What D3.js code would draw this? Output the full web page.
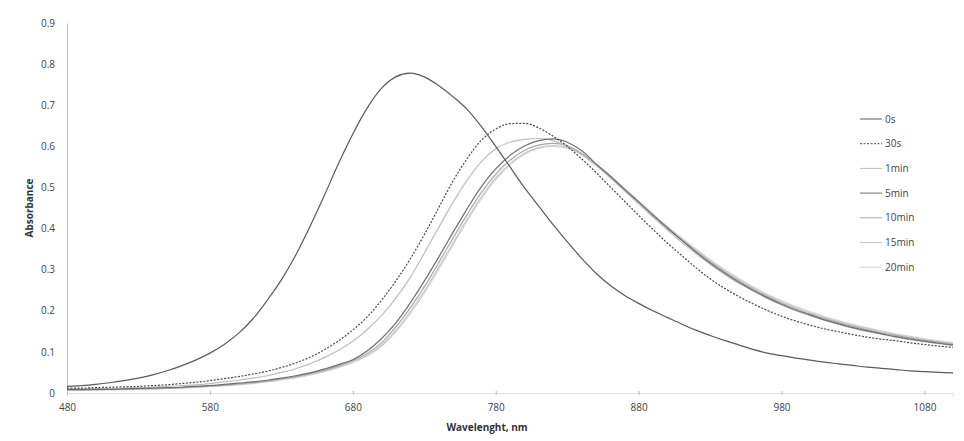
<!DOCTYPE html>
<html lang="en">
<head>
  <meta charset="UTF-8">
  <script src="https://d3js.org/d3.v7.min.js"></script>
  <style>
    body { margin: 0; background: #fff; }
    text { font-family: "Open Sans", "Noto Sans", sans-serif; fill: #444; }
  </style>
</head>
<body>
<div id="my_dataviz"></div>
<script>
// wavelengths, nm
var wavelength = [480, 490, 500, 510, 520, 530, 540, 550, 560, 570, 580, 590, 600, 610, 620, 630, 640, 650, 660, 670,
  680, 690, 700, 710, 720, 730, 740, 750, 760, 770, 780, 790, 800, 810, 820, 830, 840, 850, 860, 870,
  880, 890, 900, 910, 920, 930, 940, 950, 960, 970, 980, 990, 1000, 1010, 1020, 1030, 1040, 1050, 1060, 1070,
  1080, 1090, 1100];

var seriesNames = ["0s", "30s", "1min", "5min", "10min", "15min", "20min"];

var abs0s = [0.016, 0.018, 0.021, 0.025, 0.030, 0.036, 0.044, 0.054, 0.066, 0.080, 0.097, 0.118, 0.145, 0.180, 0.225, 0.275, 0.335, 0.405, 0.480, 0.558,
  0.630, 0.693, 0.741, 0.769, 0.778, 0.769, 0.748, 0.721, 0.690, 0.648, 0.600, 0.550, 0.500, 0.455, 0.410, 0.368, 0.328, 0.292, 0.262, 0.238,
  0.218, 0.200, 0.184, 0.168, 0.153, 0.140, 0.128, 0.117, 0.106, 0.097, 0.091, 0.085, 0.080, 0.075, 0.071, 0.067, 0.063, 0.060, 0.057, 0.054,
  0.052, 0.050, 0.049];

var abs30s = [0.012, 0.012, 0.013, 0.014, 0.015, 0.016, 0.018, 0.020, 0.023, 0.026, 0.030, 0.035, 0.040, 0.046, 0.053, 0.062, 0.073, 0.087, 0.105, 0.127,
  0.153, 0.185, 0.225, 0.272, 0.325, 0.385, 0.450, 0.515, 0.570, 0.615, 0.642, 0.655, 0.656, 0.645, 0.625, 0.600, 0.570, 0.537, 0.502, 0.467,
  0.432, 0.398, 0.365, 0.335, 0.305, 0.278, 0.255, 0.235, 0.217, 0.201, 0.187, 0.175, 0.165, 0.156, 0.149, 0.142, 0.136, 0.131, 0.127, 0.122,
  0.118, 0.114, 0.111];

var abs1min = [0.010, 0.010, 0.011, 0.011, 0.012, 0.013, 0.014, 0.016, 0.018, 0.020, 0.023, 0.027, 0.031, 0.036, 0.042, 0.050, 0.059, 0.071, 0.086, 0.104,
  0.126, 0.154, 0.188, 0.230, 0.280, 0.340, 0.402, 0.463, 0.518, 0.563, 0.594, 0.610, 0.617, 0.619, 0.614, 0.600, 0.580, 0.554, 0.524, 0.492,
  0.460, 0.428, 0.397, 0.367, 0.339, 0.313, 0.289, 0.267, 0.248, 0.230, 0.214, 0.200, 0.188, 0.177, 0.167, 0.158, 0.150, 0.143, 0.136, 0.130,
  0.125, 0.120, 0.116];

var abs5min = [0.008, 0.008, 0.009, 0.009, 0.010, 0.011, 0.012, 0.013, 0.014, 0.016, 0.018, 0.021, 0.024, 0.027, 0.031, 0.036, 0.042, 0.049, 0.058, 0.069,
  0.081, 0.102, 0.132, 0.170, 0.218, 0.272, 0.330, 0.390, 0.448, 0.502, 0.545, 0.578, 0.601, 0.614, 0.618, 0.610, 0.590, 0.558, 0.528, 0.496,
  0.465, 0.433, 0.402, 0.372, 0.343, 0.316, 0.292, 0.270, 0.250, 0.232, 0.216, 0.202, 0.190, 0.178, 0.168, 0.159, 0.151, 0.144, 0.137, 0.131,
  0.126, 0.121, 0.117];

var abs10min = [0.008, 0.008, 0.008, 0.009, 0.009, 0.010, 0.011, 0.012, 0.013, 0.015, 0.017, 0.019, 0.022, 0.025, 0.029, 0.034, 0.040, 0.047, 0.055, 0.066,
  0.079, 0.096, 0.122, 0.160, 0.206, 0.258, 0.316, 0.376, 0.434, 0.488, 0.532, 0.566, 0.590, 0.603, 0.607, 0.601, 0.583, 0.557, 0.527, 0.495,
  0.463, 0.432, 0.402, 0.373, 0.345, 0.319, 0.295, 0.273, 0.253, 0.235, 0.219, 0.205, 0.192, 0.181, 0.171, 0.162, 0.154, 0.146, 0.140, 0.134,
  0.128, 0.123, 0.119];

var abs15min = [0.007, 0.007, 0.008, 0.008, 0.009, 0.010, 0.010, 0.011, 0.013, 0.014, 0.016, 0.018, 0.021, 0.024, 0.028, 0.033, 0.038, 0.045, 0.053, 0.063,
  0.076, 0.092, 0.116, 0.152, 0.197, 0.248, 0.305, 0.364, 0.423, 0.477, 0.523, 0.558, 0.583, 0.597, 0.602, 0.597, 0.581, 0.556, 0.527, 0.496,
  0.464, 0.433, 0.403, 0.375, 0.348, 0.322, 0.298, 0.276, 0.256, 0.238, 0.222, 0.208, 0.195, 0.184, 0.174, 0.165, 0.157, 0.149, 0.142, 0.136,
  0.130, 0.125, 0.121];

var abs20min = [0.007, 0.007, 0.007, 0.008, 0.008, 0.009, 0.010, 0.011, 0.012, 0.014, 0.016, 0.018, 0.020, 0.023, 0.027, 0.032, 0.037, 0.044, 0.052, 0.062,
  0.074, 0.090, 0.113, 0.148, 0.192, 0.243, 0.300, 0.359, 0.418, 0.473, 0.519, 0.555, 0.580, 0.595, 0.600, 0.596, 0.581, 0.557, 0.529, 0.498,
  0.467, 0.436, 0.406, 0.378, 0.351, 0.325, 0.301, 0.279, 0.259, 0.241, 0.225, 0.211, 0.198, 0.186, 0.176, 0.167, 0.159, 0.151, 0.144, 0.138,
  0.132, 0.127, 0.123];

var xTicks = [480, 580, 680, 780, 880, 980, 1080];
var yTicks = [0, 0.1, 0.2, 0.3, 0.4, 0.5, 0.6, 0.7, 0.8, 0.9];

var allSeries = [abs0s, abs30s, abs1min, abs5min, abs10min, abs15min, abs20min];
var colors = ["#5a5a5a", "#4a4a4a", "#bdbdbd", "#6e6e6e", "#a8a8a8", "#c8c8c8", "#d6d6d6"];
var dashes = [null, "2,1.5", null, null, null, null, null];

// dimensions
var marginLeft = 67;
var marginTop = 23;
var width = 953 - marginLeft;
var height = 393 - marginTop;

var svg = d3.select("#my_dataviz")
  .append("svg")
  .attr("width", 964)
  .attr("height", 441)
  .append("g")
  .attr("transform", "translate(" + marginLeft + "," + marginTop + ")");

var x = d3.scaleLinear().domain([480, 1100]).range([0, width]);
var y = d3.scaleLinear().domain([0, 0.9]).range([height, 0]);

// x axis
var xAxis = svg.append("g")
  .attr("transform", "translate(0," + height + ")")
  .call(d3.axisBottom(x).tickValues(xTicks).tickSize(4).tickFormat(d3.format("d")));
xAxis.select(".domain").attr("stroke", "#e2e2e2");
xAxis.selectAll(".tick line").attr("stroke", "#bbb").attr("transform", "translate(0,-2)");
xAxis.selectAll("text").attr("dy", "1.1em").style("font-size", "10px").style("fill", "#444");

// y axis
var yAxis = svg.append("g")
  .call(d3.axisLeft(y).tickValues(yTicks).tickSize(0).tickPadding(12)
    .tickFormat(function(d) { return d === 0 ? "0" : d3.format(".1f")(d); }));
yAxis.select(".domain").attr("stroke", "#c4c4c4");
yAxis.selectAll("text").style("font-size", "10px").style("fill", "#444");

// axis titles
svg.append("text")
  .attr("x", width / 2 - 23)
  .attr("y", height + 38)
  .attr("text-anchor", "middle")
  .style("font-size", "10px")
  .style("font-weight", "bold")
  .style("fill", "#333")
  .text("Wavelenght, nm");

svg.append("text")
  .attr("transform", "translate(" + (-34) + "," + (y(0.45)) + ")rotate(-90)")
  .attr("text-anchor", "middle")
  .style("font-size", "10px")
  .style("font-weight", "bold")
  .style("fill", "#333")
  .text("Absorbance");

// curves
var line = d3.line()
  .x(function(d) { return x(d[0]); })
  .y(function(d) { return y(d[1]); })
  .curve(d3.curveMonotoneX);

// draw light ones first so the darker ones sit on top
var order = [6, 5, 4, 2, 3, 1, 0];
order.forEach(function(i) {
  var pts = wavelength.map(function(w, k) { return [w, allSeries[i][k]]; });
  svg.append("path")
    .datum(pts)
    .attr("fill", "none")
    .attr("stroke", colors[i])
    .attr("stroke-width", 1.2)
    .attr("stroke-dasharray", dashes[i])
    .attr("d", line);
});

// legend
var legend = svg.append("g")
  .attr("transform", "translate(" + (860 - marginLeft) + "," + (119 - marginTop) + ")");

seriesNames.forEach(function(name, i) {
  var g = legend.append("g").attr("transform", "translate(0," + (i * 24.7) + ")");
  g.append("line")
    .attr("x1", 0).attr("x2", 22)
    .attr("y1", 0).attr("y2", 0)
    .attr("stroke", colors[i])
    .attr("stroke-width", 1)
    .attr("stroke-dasharray", dashes[i]);
  g.append("text")
    .attr("x", 25)
    .attr("y", 0)
    .attr("dy", "0.35em")
    .style("font-size", "10px")
    .text(name);
});
</script>
</body>
</html>
